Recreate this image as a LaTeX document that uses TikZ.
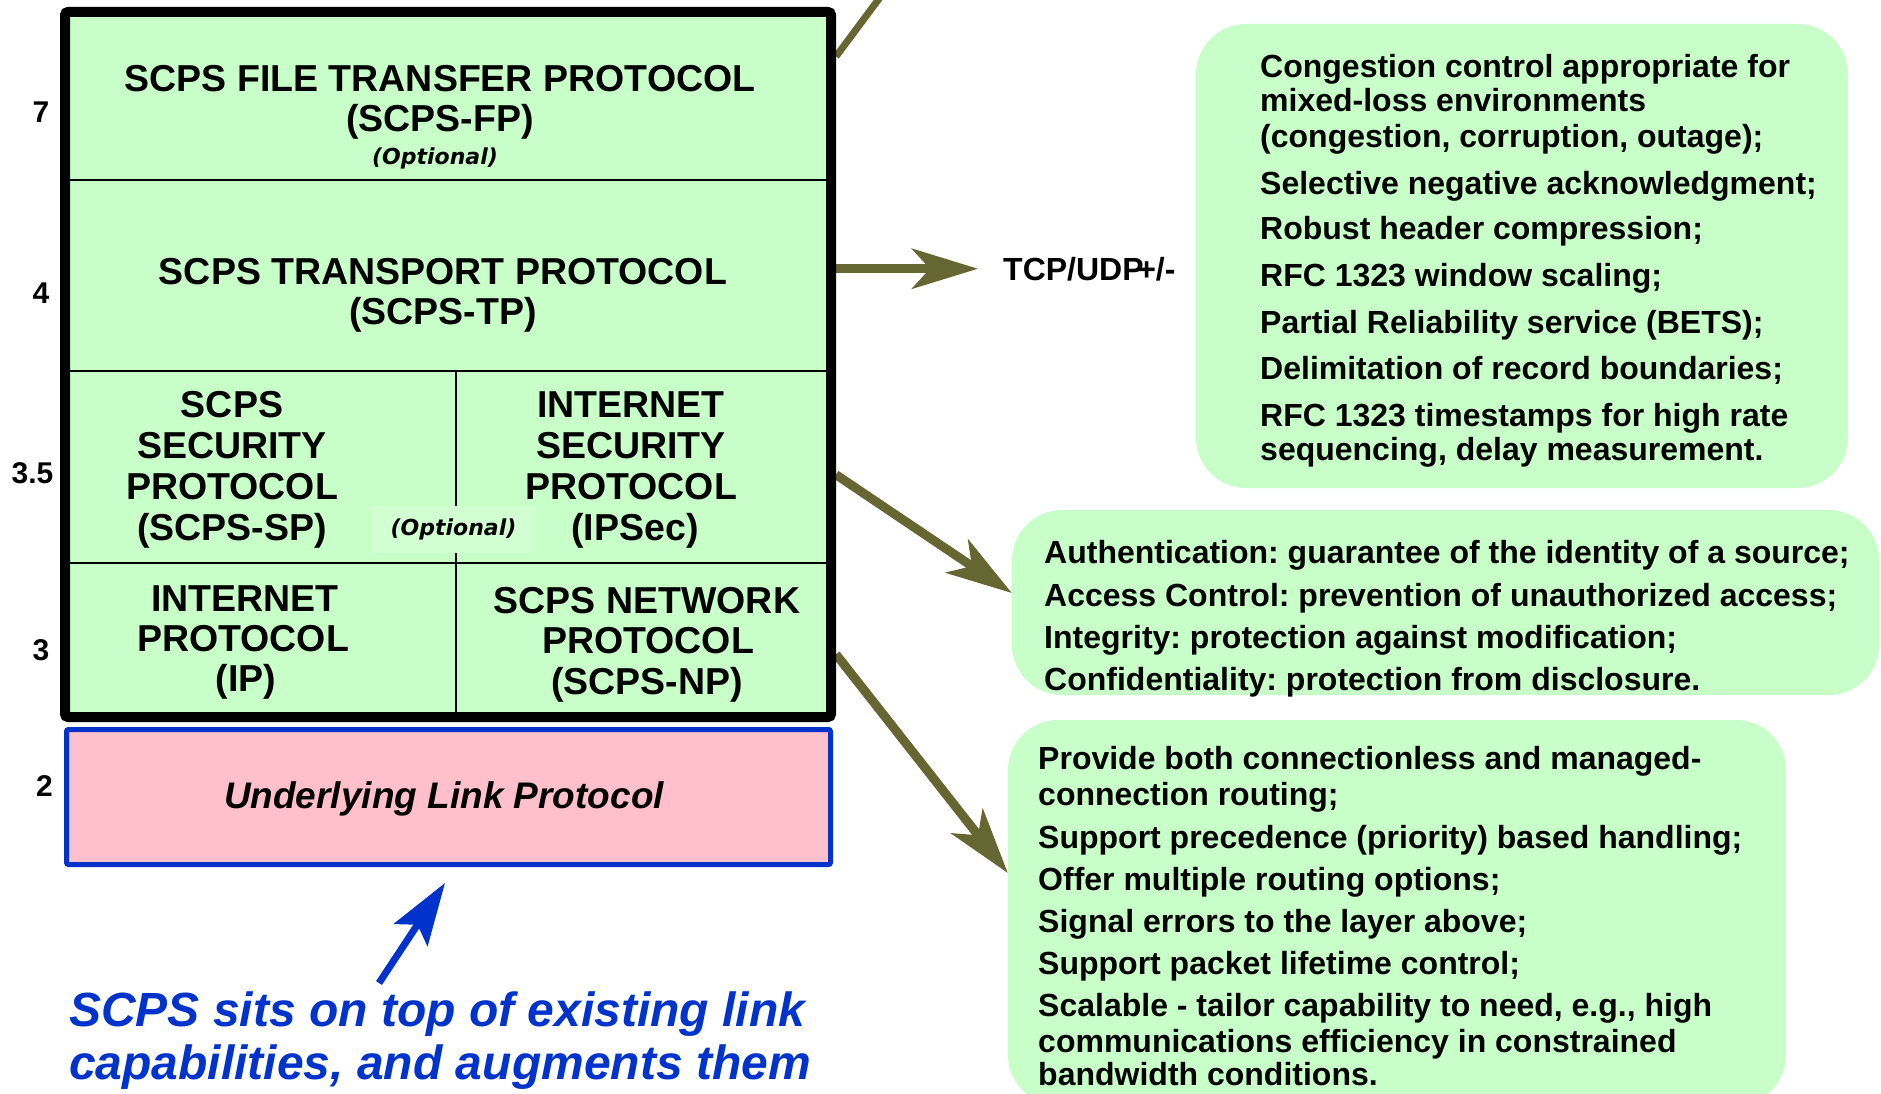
\documentclass[tikz,border=0pt]{standalone}
\usepackage{fontspec}
\setmainfont{Liberation Sans}
\newfontfamily\optfont{DejaVu Sans}
\usetikzlibrary{arrows.meta,calc}
\pgfdeclarelayer{background}
\pgfsetlayers{background,main}
\frenchspacing
\definecolor{lgreen}{RGB}{200,255,200}
\definecolor{optbg}{RGB}{210,255,210}
\definecolor{olivec}{RGB}{102,102,51}
\definecolor{bluec}{RGB}{0,51,204}
\definecolor{pinkc}{RGB}{255,192,203}
\begin{document}
\begin{tikzpicture}[x=1pt,y=-1pt,
  hdr/.style={font=\fontsize{37.5}{41}\selectfont\bfseries, inner sep=0pt, anchor=base},
  lnum/.style={font=\fontsize{30}{34}\selectfont\bfseries, inner sep=0pt, anchor=base},
  opt/.style={font=\fontsize{22}{26}\selectfont\optfont\bfseries\itshape, inner sep=0pt},
  item/.style={font=\fontsize{32}{35}\selectfont\bfseries, inner sep=0pt, anchor=base west},
  infobox/.style={fill=lgreen, rounded corners=50pt, inner sep=0pt},
  olivearrow/.style={draw=olivec, line width=9pt, -{Stealth[length=66pt,width=40pt,inset=18pt]}},
  divider/.style={draw=black, line width=2pt},
  bluenote/.style={font=\fontsize{48}{52}\selectfont\bfseries\itshape, text=bluec, inner sep=0pt, anchor=base west},
]
\useasboundingbox (0,0) rectangle (1881,1094);

% ---------- right-hand info boxes ----------
\node[infobox, minimum width=652pt, minimum height=464pt] (tpbox) at (1522,256) {};
\node[infobox, minimum width=867pt, minimum height=185pt] (spbox) at (1445.5,602.5) {};
\node[infobox, minimum width=778pt, minimum height=385pt] (npbox) at (1397,912.5) {};

% ---------- protocol stack ----------
\node[draw=black, line width=10pt, fill=lgreen, rounded corners=3pt,
      minimum width=766pt, minimum height=705pt, inner sep=0pt] (stack) at (448,364.5) {};
\draw[divider] (65,180) -- (831,180);
\draw[divider] (65,371) -- (831,371);
\draw[divider] (65,563) -- (831,563);
\draw[divider] (456,371) -- (456,717);

\node[hdr] (fp1) at (440,92) {SCPS FILE TRANSFER PROTOCOL};
\node[hdr] (fp2) at (440,132) {(SCPS-FP)};
\node[opt, anchor=base] (fpopt) at (435,165) {(Optional)};

\node[hdr] (tp1) at (443,284) {SCPS TRANSPORT PROTOCOL};
\node[hdr] (tp2) at (443,324) {(SCPS-TP)};

\node[hdr] (sp1) at (232,417) {SCPS};
\node[hdr] (sp2) at (232,458) {SECURITY};
\node[hdr] (sp3) at (232,499) {PROTOCOL};
\node[hdr] (sp4) at (232,540) {(SCPS-SP)};

\node[hdr] (is1) at (631,417) {INTERNET};
\node[hdr] (is2) at (631,458) {SECURITY};
\node[hdr] (is3) at (631,499) {PROTOCOL};
\node[hdr] (is4) at (635,540) {(IPSec)};

\node[opt, fill=optbg, minimum width=163pt, minimum height=47pt] (secopt) at (453.5,529.5) {(Optional)};

\node[hdr] (ip1) at (245,611) {INTERNET};
\node[hdr] (ip2) at (243,651) {PROTOCOL};
\node[hdr] (ip3) at (246,691) {(IP)};

\node[hdr] (np1) at (647,613) {SCPS NETWORK};
\node[hdr] (np2) at (648,653) {PROTOCOL};
\node[hdr] (np3) at (647,694) {(SCPS-NP)};

% ---------- link layer ----------
\node[draw=bluec, line width=5pt, fill=pinkc, rounded corners=2pt,
      minimum width=764pt, minimum height=135pt, inner sep=0pt] (link) at (448.5,797) {};
\node[font=\fontsize{37}{40}\selectfont\bfseries\itshape, inner sep=0pt, anchor=base] (linktxt) at (444,808) {Underlying Link Protocol};

% ---------- layer numbers ----------
\node[lnum] (n7) at (41,123) {7};
\node[lnum] (n4) at (41,303) {4};
\node[lnum] (n35) at (32.5,483) {3.5};
\node[lnum] (n3) at (41,660) {3};
\node[lnum] (n2) at (44.5,796) {2};

% ---------- transport features ----------
\foreach \yy/\tt [count=\i] in {
   78/{Congestion control appropriate for},
   112/{mixed-loss environments},
   148/{(congestion, corruption, outage);},
   195/{Selective negative acknowledgment;},
   240/{Robust header compression;},
   286/{RFC 1323 window scaling;},
   333/{Partial Reliability service (BETS);},
   379/{Delimitation of record boundaries;},
   426/{RFC 1323 timestamps for high rate},
   460/{sequencing, delay measurement.}}
  \node[item] (tpl\i) at (1260,\yy) {\tt};

% ---------- security features ----------
\foreach \yy/\tt [count=\i] in {
   563/{Authentication: guarantee of the identity of a source;},
   606/{Access Control: prevention of unauthorized access;},
   648/{Integrity: protection against modification;},
   690/{Confidentiality: protection from disclosure.}}
  \node[item] (spl\i) at (1044,\yy) {\tt};

% ---------- network features ----------
\foreach \yy/\tt [count=\i] in {
   769/{Provide both connectionless and managed-},
   805/{connection routing;},
   848/{Support precedence (priority) based handling;},
   890/{Offer multiple routing options;},
   932/{Signal errors to the layer above;},
   974/{Support packet lifetime control;},
   1016/{Scalable - tailor capability to need, e.g., high},
   1052/{communications efficiency in constrained},
   1085/{bandwidth conditions.}}
  \node[item] (npl\i) at (1038,\yy) {\tt};

% ---------- TCP label and arrows ----------
\node[font=\fontsize{32}{36}\selectfont\bfseries, inner sep=0pt, anchor=base west] (tcp) at (1003,280) {TCP/UDP\kern-0.2em+/-};

\coordinate (topend) at (887,-12);
\begin{pgfonlayer}{background}
\draw[olivec, line width=7pt] ($(stack.north east)+(0,49.5)$) -- (topend);
\draw[olivearrow] (stack.east |- tcp.west) -- ([xshift=-25pt]tcp.west);
\draw[olivearrow] ($(stack.east)+(0,110.2)$) -- ([yshift=9.5pt]spbox.west);
\draw[olivearrow] ($(stack.east)+(0,289.8)$) -- ([yshift=39.5pt]npbox.west);
\end{pgfonlayer}

% ---------- blue note ----------
\node[bluenote] (blue1) at (69,1026) {SCPS sits on top of existing link};
\node[bluenote] (blue2) at (69,1079) {capabilities, and augments them};
\coordinate (bstart) at (379,983);
\coordinate (btip) at (445,883);
\draw[bluec, line width=7pt, -{Stealth[length=62pt,width=40pt,inset=12pt]}] (bstart) -- (btip);
\end{tikzpicture}
\end{document}
